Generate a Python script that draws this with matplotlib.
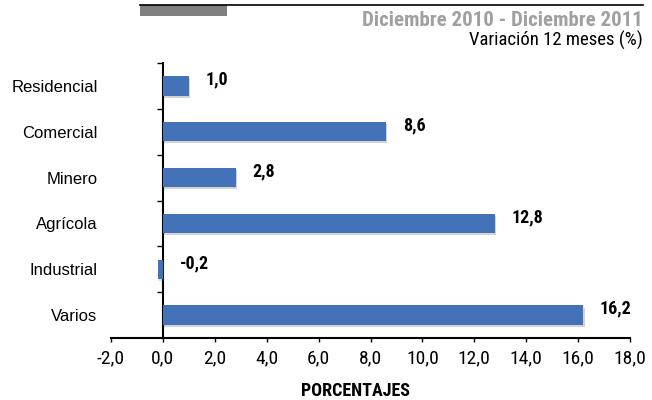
import matplotlib
matplotlib.use("Agg")
import matplotlib.pyplot as plt
from matplotlib import font_manager
from matplotlib.ticker import FixedLocator, FuncFormatter
import matplotlib.patheffects as pe

categorias = ["Residencial", "Comercial", "Minero", "Agrícola", "Industrial", "Varios"]
valores = [1.0, 8.6, 2.8, 12.8, -0.2, 16.2]
xticks = [-2, 0, 2, 4, 6, 8, 10, 12, 14, 16, 18]

nombres = set(f.name for f in font_manager.fontManager.ttflist)
narrow = "Liberation Sans"
for cand in ["Liberation Sans Narrow", "Roboto Condensed", "PT Sans Narrow"]:
    if cand in nombres:
        narrow = cand
        break
normal = "Liberation Sans"

def coma(v, pos=None):
    return ("%.1f" % v).replace(".", ",")

fig = plt.figure(figsize=(6.52, 4.0), dpi=100)
ax = fig.add_axes([111/652, 1 - 338/400, (630 - 111)/652, (338 - 63)/400])

y = list(range(len(categorias)))
barras = ax.barh(y, valores, height=0.42, color="#4372B8", zorder=3)
for b in barras:
    b.set_path_effects([pe.SimplePatchShadow(offset=(1, -1.5), shadow_rgbFace="#707070", alpha=0.3),
                        pe.Normal()])

ax.set_xlim(-2, 18)
ax.set_ylim(len(categorias) - 0.5, -0.5)

for yi, v in zip(y, valores):
    x0 = max(v, 0)
    ax.annotate(coma(v), (x0, yi), xytext=(12, 4.5), textcoords="offset points",
                ha="left", va="center", fontsize=13, fontweight="bold", family=narrow)

for s in ["top", "right"]:
    ax.spines[s].set_visible(False)
ax.spines["left"].set_position(("data", 0))
ax.spines["left"].set_linewidth(1.5)
ax.spines["bottom"].set_linewidth(1.5)

ax.xaxis.set_major_locator(FixedLocator(xticks))
ax.xaxis.set_major_formatter(FuncFormatter(coma))
ax.tick_params(axis="x", direction="out", length=3, width=1, pad=5, labelsize=14)
for t in ax.get_xticklabels():
    t.set_family(narrow)

ax.set_yticks(y)
ax.set_yticklabels(categorias, fontsize=12, family=normal)
ax.set_yticks([i + 0.5 for i in range(-1, len(categorias) - 1)], minor=True)
ax.tick_params(axis="y", which="major", length=0, pad=47)
ax.tick_params(axis="y", which="minor", direction="out", length=4, width=1)

fig.text(355/652, 1 - 391/400, "PORCENTAJES", ha="center", va="center",
         fontsize=13, fontweight="bold", family=narrow)

fig.text(643/652, 1 - 20/400, "Diciembre 2010 - Diciembre 2011", ha="right", va="center",
         fontsize=15, fontweight="bold", color="#A0A0A0", family=narrow)
fig.text(643/652, 1 - 40/400, "Variación 12 meses (%)", ha="right", va="center",
         fontsize=13.5, family=narrow)

fig.add_artist(plt.Rectangle((140/652, 1 - 16/400), 87/652, 11/400, transform=fig.transFigure,
                             color="#808080", lw=0))
fig.add_artist(plt.Line2D([140/652, 643/652], [1 - 5/400, 1 - 5/400], transform=fig.transFigure,
                          color="black", lw=1.2))

fig.savefig("out.png", dpi=100)
